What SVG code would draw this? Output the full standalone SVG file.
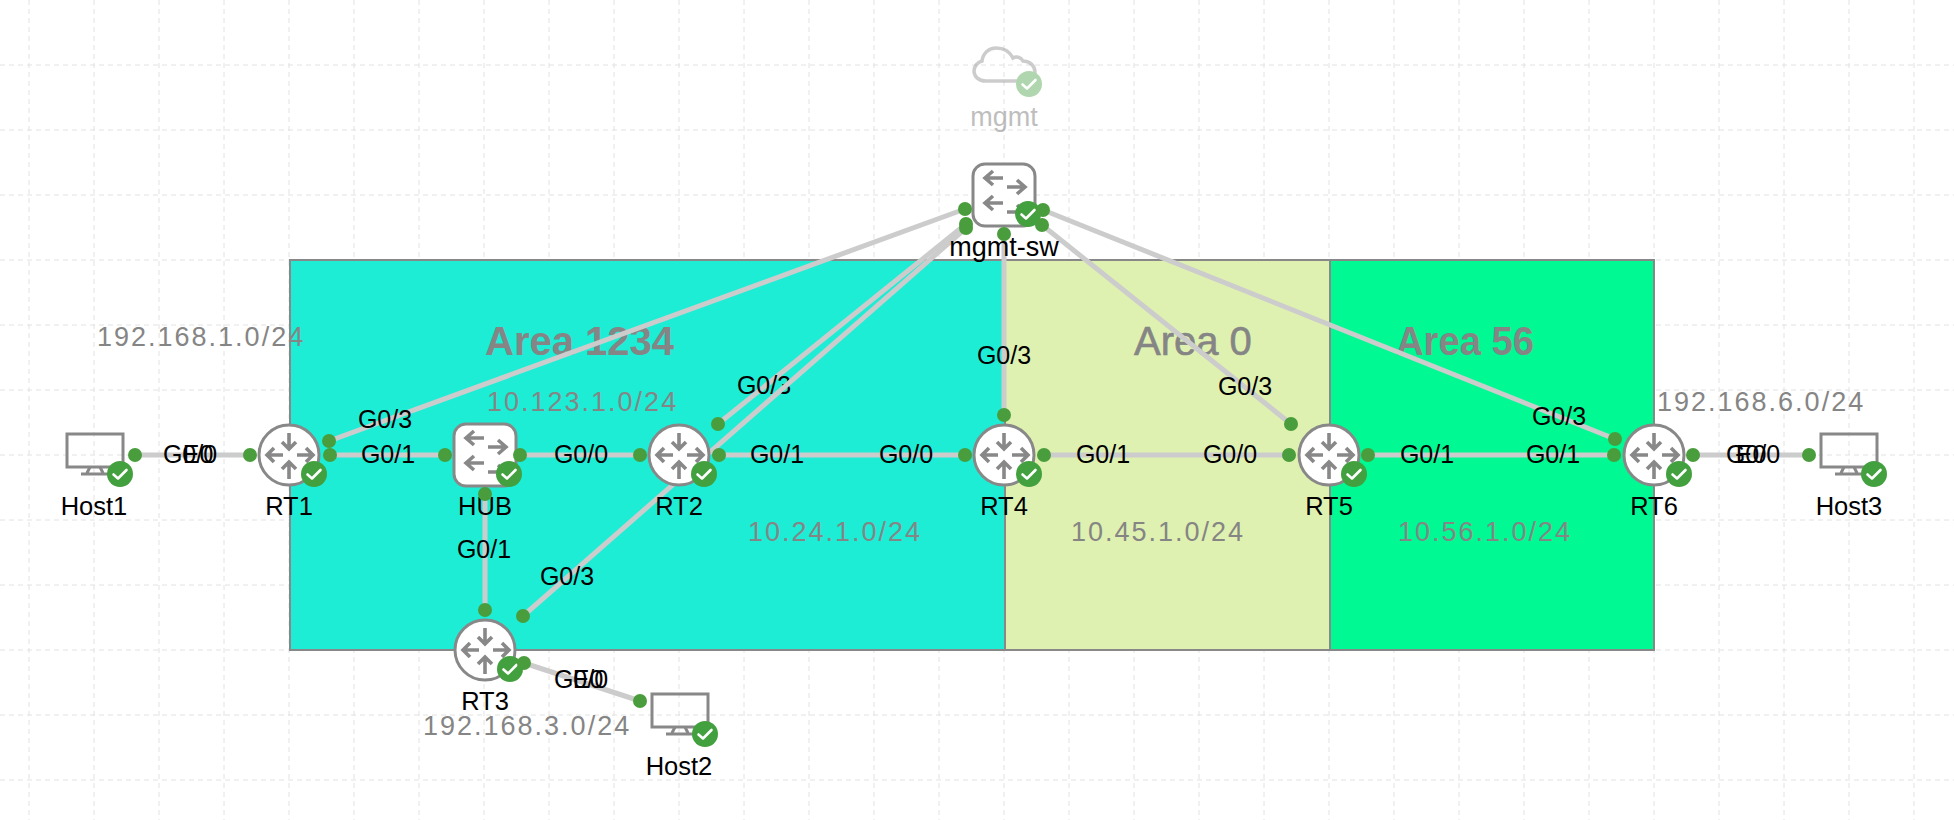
<svg xmlns="http://www.w3.org/2000/svg" width="1954" height="820" viewBox="0 0 1954 820">
<style>
text{font-family:"Liberation Sans",Arial,sans-serif}
.grid{fill:none;stroke:#e2e2e2;stroke-width:1;stroke-dasharray:5 4}
.zone{stroke:#888;stroke-width:2}
.area{font-size:40px;font-weight:700;fill:#858585}
.net{font-size:27px;letter-spacing:2px;fill:#858585}
.lnk{stroke:#ccc;stroke-width:5;fill:none}
.if{font-size:25px;fill:#000;text-anchor:middle}
.name{font-size:25.500px;fill:#000;text-anchor:middle}
.port{fill:#4a9d3c}
.shape{fill:#fff;stroke:#888;stroke-width:3}
.hollow{fill:none;stroke:#888;stroke-width:3}
.arw{fill:none;stroke:#888;stroke-width:3.600}
.badge{fill:#43a03f}
.chk{fill:none;stroke:#fff;stroke-width:2.600;stroke-linecap:round;stroke-linejoin:round}
</style>
<defs>
<g id="ok"><circle class="badge" r="13"/><path class="chk" d="M-6.500 0.500L-2 4.500L6.500-4"/></g>
<g id="router">
<circle class="shape" r="30"/>
<path class="arw" d="M0-22V-6M-7-13L0-6L7-13M0 24V7M-7 14L0 7L7 14M-22 0H-6M-15-7L-22 0L-15 7M8 0H24M17-7L24 0L17 7"/>
<use href="#ok" x="25" y="19"/>
</g>
<g id="switch">
<rect class="shape" x="-31" y="-31" width="62" height="62" rx="12"/>
<path class="arw" d="M-19-17H-1M-11-24L-19-17L-11-10M3-8H21M13-15L21-8L13-1M-19 8H-1M-11 1L-19 8L-11 15M3 17H21M13 10L21 17L13 24"/>
<use href="#ok" x="24" y="19"/>
</g>
<g id="host">
<rect class="hollow" x="-28" y="-21" width="56" height="33"/>
<path class="hollow" d="M-5 12L-8 18M5 12L8 18M-14 19H14"/>
<use href="#ok" x="25" y="19"/>
</g>
</defs>
<rect width="1954" height="820" fill="#fff"/>
<path class="grid" d="M29 0V820M94 0V820M159 0V820M224 0V820M289 0V820M354 0V820M419 0V820M484 0V820M549 0V820M614 0V820M679 0V820M744 0V820M809 0V820M874 0V820M939 0V820M1004 0V820M1069 0V820M1134 0V820M1199 0V820M1264 0V820M1329 0V820M1394 0V820M1459 0V820M1524 0V820M1589 0V820M1654 0V820M1719 0V820M1784 0V820M1849 0V820M1914 0V820M0 65H1954M0 130H1954M0 195H1954M0 260H1954M0 325H1954M0 390H1954M0 455H1954M0 520H1954M0 585H1954M0 650H1954M0 715H1954M0 780H1954"/>
<g id="zones">
<rect class="zone" x="290" y="260" width="715" height="390" fill="#1eedd6"/>
<rect class="zone" x="1005" y="260" width="325" height="390" fill="#dff1b0"/>
<rect class="zone" x="1330" y="260" width="324" height="390" fill="#00f992"/>
<text class="area" x="485" y="355">Area 1234</text>
<text class="area" x="1134" y="355" style="font-weight:400;stroke:#858585;stroke-width:.6">Area 0</text>
<text class="area" x="1396" y="355" textLength="138" lengthAdjust="spacingAndGlyphs">Area 56</text>
<text class="net" x="97" y="346">192.168.1.0/24</text>
<text class="net" x="487" y="411">10.123.1.0/24</text>
<text class="net" x="1657" y="411">192.168.6.0/24</text>
<text class="net" x="423" y="735">192.168.3.0/24</text>
<text class="net" x="748" y="541">10.24.1.0/24</text>
<text class="net" x="1071" y="541">10.45.1.0/24</text>
<text class="net" x="1398" y="541">10.56.1.0/24</text>
</g>
<g id="connectors">
<g><path class="lnk" d="M135 455H250"/><text class="if" x="190" y="463">G0/0</text><text class="if" x="198" y="463">E0</text></g>
<g><path class="lnk" d="M329 441L965 209"/><text class="if" x="385" y="428">G0/3</text></g>
<g><path class="lnk" d="M330 455H445"/><text class="if" x="388" y="463">G0/1</text></g>
<g><path class="lnk" d="M520 455H640"/><text class="if" x="581" y="463">G0/0</text></g>
<g><path class="lnk" d="M485 494V610"/><text class="if" x="484" y="558">G0/1</text></g>
<g><path class="lnk" d="M718 424L966 224"/><text class="if" x="764" y="394">G0/3</text></g>
<g><path class="lnk" d="M523 616L966 228"/><text class="if" x="567" y="585">G0/3</text></g>
<g><path class="lnk" d="M719 455H965"/><text class="if" x="777" y="463">G0/1</text><text class="if" x="906" y="463">G0/0</text></g>
<g><path class="lnk" d="M524 663L640 701"/><text class="if" x="581" y="688">G0/0</text><text class="if" x="588" y="688">E0</text></g>
<g><path class="lnk" d="M1004 234V415"/><text class="if" x="1004" y="364">G0/3</text></g>
<g><path class="lnk" d="M1044 455H1289"/><text class="if" x="1103" y="463">G0/1</text><text class="if" x="1230" y="463">G0/0</text></g>
<g><path class="lnk" d="M1042 225L1291 424"/><text class="if" x="1245" y="395">G0/3</text></g>
<g><path class="lnk" d="M1368 455H1614"/><text class="if" x="1427" y="463">G0/1</text><text class="if" x="1553" y="463">G0/1</text></g>
<g><path class="lnk" d="M1043 210L1615 439"/><text class="if" x="1559" y="425">G0/3</text></g>
<g><path class="lnk" d="M1693 455H1809"/><text class="if" x="1753" y="463">G0/0</text><text class="if" x="1751" y="463">E0</text></g>
</g>
<g id="mgmt" opacity=".42"><path class="hollow" style="stroke-width:3.500" d="M986 81C978 81 974 76 974 71C974 66 978 62 982 61C983 53 989 48 996 48C1004 48 1010 52 1013 58C1016 56 1021 57 1023 61C1030 61 1035 66 1035 72C1035 78 1030 81 1025 81Z"/><use href="#ok" x="1029" y="84"/><text class="name" x="1004" y="126" style="fill:#666;font-size:27px">mgmt</text></g>
<g id="mgmt-sw"><use href="#switch" x="1004" y="195"/><text class="name" x="1004" y="256" style="font-size:27px">mgmt-sw</text></g>
<g id="Host1"><use href="#host" x="95" y="455"/><text class="name" x="94" y="515">Host1</text></g>
<g id="RT1"><use href="#router" x="289" y="455"/><text class="name" x="289" y="515">RT1</text></g>
<g id="HUB"><use href="#switch" x="485" y="455"/><text class="name" x="485" y="515">HUB</text></g>
<g id="RT2"><use href="#router" x="679" y="455"/><text class="name" x="679" y="515">RT2</text></g>
<g id="RT4"><use href="#router" x="1004" y="455"/><text class="name" x="1004" y="515">RT4</text></g>
<g id="RT5"><use href="#router" x="1329" y="455"/><text class="name" x="1329" y="515">RT5</text></g>
<g id="RT6"><use href="#router" x="1654" y="455"/><text class="name" x="1654" y="515">RT6</text></g>
<g id="Host3"><use href="#host" x="1849" y="455"/><text class="name" x="1849" y="515">Host3</text></g>
<g id="RT3"><use href="#router" x="485" y="650"/><text class="name" x="485" y="710">RT3</text></g>
<g id="Host2"><use href="#host" x="680" y="715"/><text class="name" x="679" y="775">Host2</text></g>
<g id="ports" class="port">
<circle cx="135" cy="455" r="7"/><circle cx="250" cy="455" r="7"/><circle cx="329" cy="441" r="7"/><circle cx="330" cy="455" r="7"/><circle cx="445" cy="455" r="7"/><circle cx="520" cy="455" r="7"/><circle cx="485" cy="494" r="7"/><circle cx="485" cy="610" r="7"/><circle cx="640" cy="455" r="7"/><circle cx="719" cy="455" r="7"/><circle cx="718" cy="424" r="7"/><circle cx="965" cy="455" r="7"/><circle cx="523" cy="616" r="7"/><circle cx="524" cy="663" r="7"/><circle cx="640" cy="701" r="7"/><circle cx="1044" cy="455" r="7"/><circle cx="1004" cy="415" r="7"/><circle cx="1289" cy="455" r="7"/><circle cx="1291" cy="424" r="7"/><circle cx="1368" cy="455" r="7"/><circle cx="1614" cy="455" r="7"/><circle cx="1615" cy="439" r="7"/><circle cx="1693" cy="455" r="7"/><circle cx="1809" cy="455" r="7"/><circle cx="965" cy="209" r="7"/><circle cx="966" cy="224" r="7"/><circle cx="966" cy="228" r="7"/><circle cx="1004" cy="234" r="7"/><circle cx="1043" cy="210" r="7"/><circle cx="1042" cy="225" r="7"/>
</g>
</svg>
